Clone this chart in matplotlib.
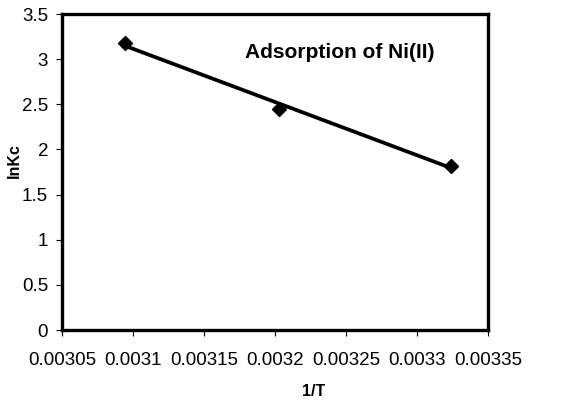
import matplotlib
matplotlib.use('Agg')
import matplotlib.pyplot as plt
import numpy as np

plt.rcParams['font.family'] = ['Liberation Sans', 'DejaVu Sans']

# 1/T and lnKc values
inv_t = [0.003094, 0.003203, 0.003324]
ln_kc = [3.18, 2.45, 1.82]

x_ticks = [0.00305, 0.0031, 0.00315, 0.0032, 0.00325, 0.0033, 0.00335]
x_tick_labels = ['0.00305', '0.0031', '0.00315', '0.0032', '0.00325', '0.0033', '0.00335']
y_ticks = [0, 0.5, 1, 1.5, 2, 2.5, 3, 3.5]
y_tick_labels = ['0', '0.5', '1', '1.5', '2', '2.5', '3', '3.5']

fig = plt.figure(figsize=(5.66, 4.01), dpi=100)
ax = fig.add_axes([0.1095, 0.177, 0.7535, 0.788])

# linear fit
coef = np.polyfit(inv_t, ln_kc, 1)
xf = np.array([inv_t[0], inv_t[-1]])
ax.plot(xf, np.polyval(coef, xf), color='black', lw=2.7, zorder=2)
ax.plot(inv_t, ln_kc, 'D', color='black', ms=7, zorder=3)

ax.set_xlim(0.00305, 0.00335)
ax.set_ylim(0, 3.5)
ax.set_xticks(x_ticks)
ax.set_xticklabels(x_tick_labels)
ax.set_yticks(y_ticks)
ax.set_yticklabels(y_tick_labels)
ax.tick_params(direction='out', length=4, width=0.8, labelsize=13.5)
ax.tick_params(axis='x', pad=12)
ax.tick_params(axis='y', pad=6)

for s in ax.spines.values():
    s.set_linewidth(2.4)

ax.set_xlabel('1/T', fontsize=11.5, fontweight='bold')
ax.xaxis.set_label_coords(0.59, -0.17)
ax.set_ylabel('lnKc', fontsize=11.5, fontweight='bold')
ax.yaxis.set_label_coords(-0.094, 0.537)

ax.text(0.003179, 3.07, 'Adsorption of Ni(II)', fontsize=15, fontweight='bold',
        ha='left', va='center')

fig.savefig('out.png', dpi=100)
